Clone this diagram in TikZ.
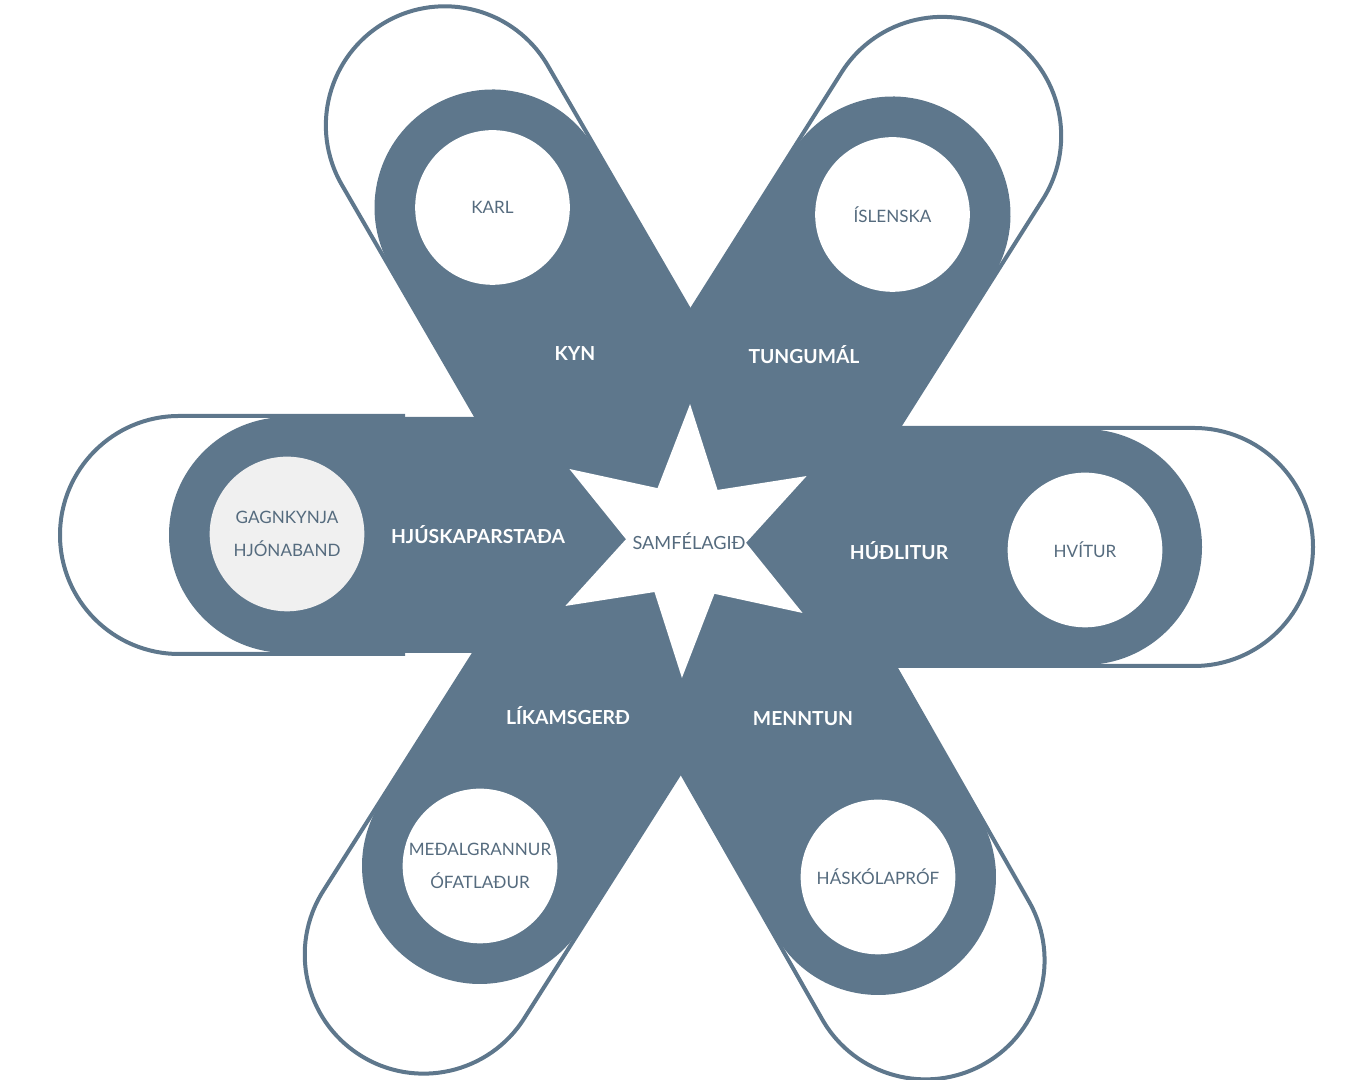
\documentclass[tikz,border=0pt]{standalone}
\usepackage{fontspec}
\setmainfont{Lato}

\definecolor{slate}{RGB}{94,119,140}
\definecolor{paleg}{RGB}{240,240,240}

\tikzset{
    armfill/.style={fill=slate},
    armline/.style={draw=slate, line width=3pt},
    ring/.style={circle, fill=white, minimum size=116pt, inner sep=0pt,
        text=slate!90!black, align=center, font=\fontsize{12.8}{25}\selectfont},
    armlabel/.style={text=white, font=\bfseries\fontsize{14.5}{17}\selectfont},
    starlabel/.style={text=slate!90!black, font=\fontsize{13.6}{16}\selectfont},
}

\begin{document}
\begin{tikzpicture}[x=0.75pt,y=0.75pt]

    \useasboundingbox (0,0) rectangle (1347,1080);

    % upper left arm (kyn)
    \begin{scope}[shift={(492.5,872.5)}, rotate=120.1]
        \draw[armline] (-380,119) -- (95,119) arc[start angle=90, end angle=-90, radius=119] -- (-380,-119);
        \fill[armfill] (-390,118) -- (0,118) arc[start angle=90, end angle=-90, radius=118] -- (-390,-118) -- cycle;
    \end{scope}

    % upper right arm (tungumal)
    \begin{scope}[shift={(892.5,865.5)}, rotate=57.7]
        \draw[armline] (-380,119) -- (93,119) arc[start angle=90, end angle=-90, radius=119] -- (-380,-119);
        \fill[armfill] (-390,118) -- (0,118) arc[start angle=90, end angle=-90, radius=118] -- (-390,-118) -- cycle;
    \end{scope}

    % left arm (hjuskaparstada)
    \begin{scope}[shift={(287,545)}, rotate=180]
        \draw[armline] (-118,119) -- (108,119) arc[start angle=90, end angle=-90, radius=119] -- (-118,-119);
        \fill[armfill] (-400,118) -- (0,118) arc[start angle=90, end angle=-90, radius=118] -- (-400,-118) -- cycle;
    \end{scope}

    % right arm (hudlitur)
    \begin{scope}[shift={(1084,533)}, rotate=0]
        \draw[armline] (-380,119) -- (110,119) arc[start angle=90, end angle=-90, radius=119] -- (-380,-119);
        \fill[armfill] (-400,118) -- (0,118) arc[start angle=90, end angle=-90, radius=118] -- (-400,-118) -- cycle;
    \end{scope}

    % lower left arm (likamsgerd)
    \begin{scope}[shift={(480,214)}, rotate=237.6]
        \draw[armline] (-380,119) -- (105,119) arc[start angle=90, end angle=-90, radius=119] -- (-380,-119);
        \fill[armfill] (-390,118) -- (0,118) arc[start angle=90, end angle=-90, radius=118] -- (-390,-118) -- cycle;
    \end{scope}

    % lower right arm (menntun)
    \begin{scope}[shift={(878,203)}, rotate=299.7]
        \draw[armline] (-380,119) -- (96,119) arc[start angle=90, end angle=-90, radius=119] -- (-380,-119);
        \fill[armfill] (-390,118) -- (0,118) arc[start angle=90, end angle=-90, radius=118] -- (-390,-118) -- cycle;
    \end{scope}

    % star in the middle
    \begin{scope}[shift={(686,539)}, rotate=-1.7]
        \fill[white] (90:137) -- (60:60) -- (30:137) -- (0:60) -- (-30:137) -- (-60:60)
            -- (-90:137) -- (-120:60) -- (-150:137) -- (180:60) -- (150:137) -- (120:60) -- cycle;
    \end{scope}
    \node[starlabel] (samfelagid) at (689,539) {SAMFÉLAGIÐ};

    % circles at the ends
    \node[ring] (karl) at (492.5,872.5) {KARL};
    \node[ring] (islenska) at (892.5,865.5) {ÍSLENSKA};
    \node[ring, fill=paleg] (gagnkynja) at (287,546) {GAGNKYNJA\\HJÓNABAND};
    \node[ring] (hvitur) at (1085,530) {HVÍTUR};
    \node[ring] (medalgrannur) at (480,214) {MEÐALGRANNUR\\ÓFATLAÐUR};
    \node[ring] (haskolaprof) at (878,203) {HÁSKÓLAPRÓF};

    % arm labels
    \node[armlabel] (kyn) at (575,726) {KYN};
    \node[armlabel] (tungumal) at (804,725) {TUNGUMÁL};
    \node[armlabel] (hjuskaparstada) at (478,545) {HJÚSKAPARSTAÐA};
    \node[armlabel] (hudlitur) at (899,529) {HÚÐLITUR};
    \node[armlabel] (likamsgerd) at (568,364) {LÍKAMSGERÐ};
    \node[armlabel] (menntun) at (803,361) {MENNTUN};

\end{tikzpicture}
\end{document}
